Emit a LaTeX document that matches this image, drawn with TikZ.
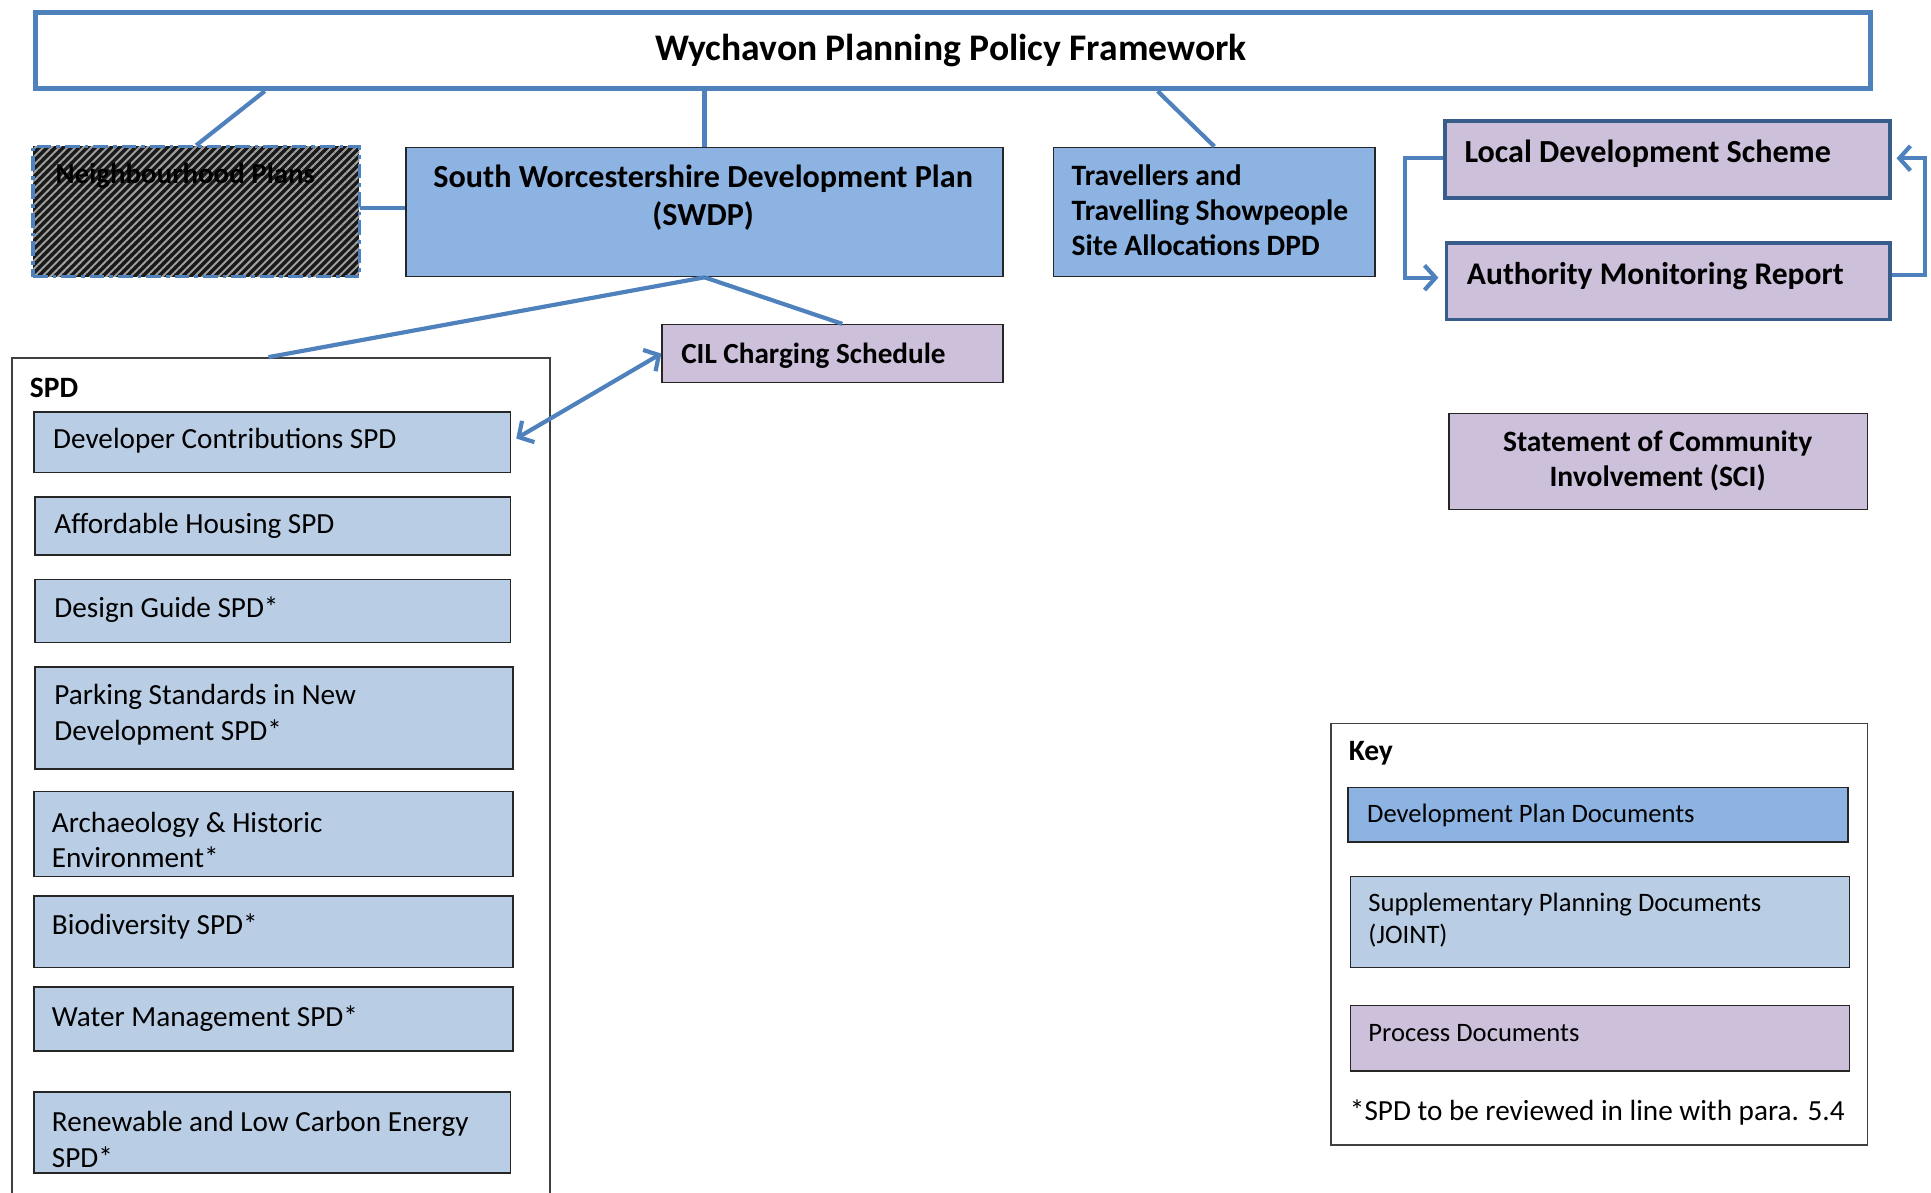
\documentclass[tikz,border=0pt]{standalone}
\usepackage{fontspec}
\setmainfont{Carlito}
\usetikzlibrary{arrows.meta,patterns.meta,calc}
\definecolor{lineblue}{RGB}{79,129,189}
\definecolor{dpd}{RGB}{141,179,226}
\definecolor{spd}{RGB}{185,205,229}
\definecolor{proc}{RGB}{204,192,218}
\definecolor{darkbord}{RGB}{56,93,138}
\tikzset{
  box/.style={draw=black!85, line width=1.2pt, inner sep=0pt, anchor=north west},
  dpdbox/.style={box, fill=dpd},
  spdbox/.style={box, fill=spd},
  procbox/.style={box, fill=proc},
  schemebox/.style={box, fill=proc, draw=darkbord, line width=3pt},
  groupbox/.style={box, draw=black!75, line width=1.2pt, fill=white},
  txt/.style={inner sep=0pt, anchor=west, align=left, yshift=-2pt, font=\fontsize{23.7}{29}\selectfont},
  keytxt/.style={txt, font=\fontsize{21.6}{26}\selectfont},
  btxt/.style={inner sep=0pt, anchor=west, align=left, yshift=-2pt, font=\fontsize{24}{28.5}\bfseries\selectfont},
  bigtxt/.style={inner sep=0pt, anchor=west, align=left, yshift=-2pt, font=\fontsize{26.1}{31}\bfseries\selectfont},
  conn/.style={draw=lineblue, line width=3.4pt},
  tipv/.tip={Straight Barb[length=9pt,width=20pt,line width=3.4pt]},
}
\begin{document}
\begin{tikzpicture}[x=1pt,y=-1pt]
\useasboundingbox (0,0) rectangle (1568,968);

% top frame
\node[box, draw=lineblue, line width=4pt, fill=white, minimum width=1490, minimum height=62] (title) at (27,8) {};
\node[inner sep=0pt, yshift=-3pt, font=\fontsize{30.5}{36}\bfseries\selectfont] (titletxt) at (772,38) {Wychavon Planning Policy Framework};

% neighbourhood plans (hatched)
\node[box, draw=lineblue, line width=2.5pt, dash pattern=on 12pt off 4pt on 3pt off 4pt,
      preaction={fill=black!90}, pattern={Lines[angle=45,distance=4.6pt,line width=1.6pt]}, pattern color=gray!75,
      minimum width=265, minimum height=106] (nplan) at (26,118) {};
\node[btxt, font=\fontsize{23.5}{28.5}\bfseries\selectfont] (nplantxt) at (45,141) {Neighbourhood Plans};

% development plan documents
\node[dpdbox, minimum width=485, minimum height=105] (swdp) at (329,119) {};
\node[bigtxt, anchor=center, align=center] (swdptxt) at (571,158.5) {South Worcestershire Development Plan\\(SWDP)};
\node[dpdbox, minimum width=261, minimum height=105] (trav) at (855,119) {};
\node[btxt, yshift=2pt] (travtxt) at (870,171) {Travellers and\\Travelling Showpeople\\Site Allocations DPD};

% process documents
\node[schemebox, minimum width=361, minimum height=62] (lds) at (1172,97) {};
\node[bigtxt] (ldstxt) at (1189,123) {Local Development Scheme};
\node[schemebox, minimum width=360, minimum height=62] (amr) at (1173,196) {};
\node[bigtxt, font=\fontsize{25.6}{31}\bfseries\selectfont] (amrtxt) at (1191,222) {Authority Monitoring Report};
\node[procbox, minimum width=340, minimum height=78] (sci) at (1176,335) {};
\node[btxt, anchor=center, align=center] (scitxt) at (1346,372) {Statement of Community\\Involvement (SCI)};
\node[procbox, minimum width=277, minimum height=47] (cil) at (537,263) {};
\node[btxt, font=\fontsize{23.7}{28}\bfseries\selectfont] (ciltxt) at (553,287) {CIL Charging Schedule};

% SPD group
\node[groupbox, minimum width=437, minimum height=720] (spdc) at (9,290) {};
\node[btxt] (spdlabel) at (24,313) {SPD};
\node[spdbox, minimum width=387, minimum height=49] (s1) at (27,334) {};
\node[txt] (s1t) at (43,356) {Developer Contributions SPD};
\node[spdbox, minimum width=386, minimum height=47] (s2) at (28,403) {};
\node[txt] (s2t) at (44,425) {Affordable Housing SPD};
\node[spdbox, minimum width=386, minimum height=51] (s3) at (28,470) {};
\node[txt] (s3t) at (44,493) {Design Guide SPD*};
\node[spdbox, minimum width=388, minimum height=83] (s4) at (28,541) {};
\node[txt] (s4t) at (44,578.5) {Parking Standards in New\\Development SPD*};
\node[spdbox, minimum width=389, minimum height=69] (s5) at (27,642) {};
\node[txt] (s5t) at (42,680) {Archaeology \& Historic\\Environment*};
\node[spdbox, minimum width=389, minimum height=58] (s6) at (27,727) {};
\node[txt] (s6t) at (42,750) {Biodiversity SPD*};
\node[spdbox, minimum width=389, minimum height=52] (s7) at (27,801) {};
\node[txt] (s7t) at (42,825) {Water Management SPD*};
\node[spdbox, minimum width=387, minimum height=66] (s8) at (27,886) {};
\node[txt] (s8t) at (42,923) {Renewable and Low Carbon Energy\\SPD*};

% key
\node[groupbox, minimum width=436, minimum height=342] (key) at (1080,587) {};
\node[btxt] (keylabel) at (1095,610) {Key};
\node[dpdbox, minimum width=406, minimum height=44] (k1) at (1094,639) {};
\node[keytxt] (k1t) at (1110,660) {Development Plan Documents};
\node[spdbox, minimum width=405, minimum height=74] (k2) at (1096,711) {};
\node[keytxt] (k2t) at (1111,745) {Supplementary Planning Documents\\(JOINT)};
\node[procbox, minimum width=405, minimum height=53] (k3) at (1096,816) {};
\node[keytxt] (k3t) at (1111,837) {Process Documents};
\node[txt] (note) at (1096,901) {*SPD to be reviewed in line with para. 5.4};

% connectors
\draw[conn] ($(title.south west)+(188,0)$) -- (nplan.north);
\draw[conn] (swdp.north |- title.south) -- (swdp.north);
\draw[conn] ($(title.south west)+(913,0)$) -- (trav.north);
\draw[conn] ($(nplan.east)+(0,-3)$) -- ($(nplan.east -| swdp.west)+(0,-3)$);
\draw[conn] (swdp.south) -- ($(spdc.north west)+(209,0)$);
\draw[conn] (swdp.south) -- ($(cil.north west)+(147,0)$);
\draw[conn, tipv-tipv] (cil.west) -- ($(s1.east)+(4,-3)$);
\draw[conn, -tipv] ($(lds.west)+(0,-1)$) -- ++(-31,0) |- ($(amr.west)+(-5,-3)$);
\draw[conn, -tipv] ($(amr.east)+(0,-5)$) -- ++(27,0) |- ($(lds.east)+(4,-1)$);
\end{tikzpicture}
\end{document}
